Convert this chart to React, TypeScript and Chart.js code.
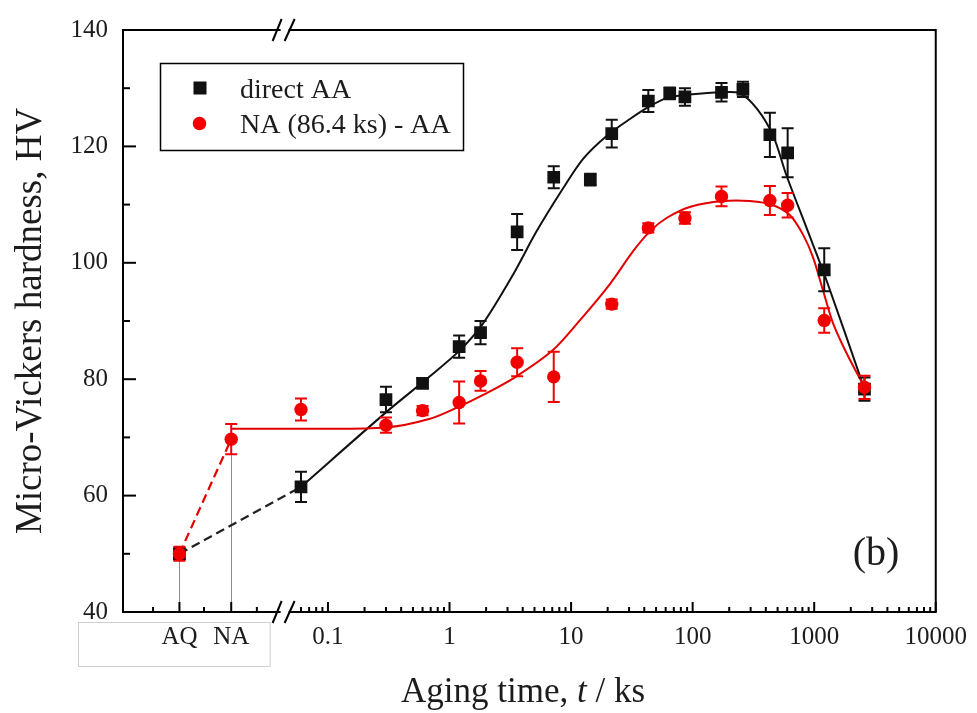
import React, { useEffect, useRef } from 'react';
import { Chart, registerables } from 'chart.js';

Chart.register(...registerables);

// ---------- axis definitions (broken time axis: AQ / NA positions, then log time in ks) ----------
const AQ_T = 0.006; // position used for the "AQ" category left of the break
const NA_T = 0.016; // position used for the "NA" category left of the break
const BREAK_T = 0.044; // where the axis break sits
const X_MIN = 0.00206;
const X_MAX = 10000;
const X_LABELED = [AQ_T, NA_T, 0.1, 1, 10, 100, 1000, 10000];
const X_LABEL_TEXT = ['AQ', 'NA', '0.1', '1', '10', '100', '1000', '10000'];
const X_LEFT_MINOR = [0.00364, 0.00955, 0.026];
const X_DECADES = [0.01, 0.1, 1, 10, 100, 1000];
const X_MINOR_MULT = [2, 3, 4, 5, 6, 7, 8, 9];

const Y_MIN = 40;
const Y_MAX = 140;
const Y_MAJOR = [40, 60, 80, 100, 120, 140];
const Y_MINOR = [50, 70, 90, 110, 130];

// ---------- measured data ----------
const AA_TIME = [AQ_T, 0.06, 0.3, 0.6, 1.2, 1.8, 3.6, 7.2, 14.4, 21.6, 43.2, 64.8, 86.4, 172.8, 259.2, 432, 604.8, 1209.6, 2592];
const AA_HV = [50.0, 61.5, 76.5, 79.3, 85.6, 88.0, 105.3, 114.7, 114.3, 122.2, 127.8, 129.1, 128.5, 129.3, 129.8, 122.0, 118.9, 98.8, 78.3];
const AA_ERR = [1.0, 2.6, 2.2, 0.8, 1.9, 2.0, 3.1, 1.9, 1.0, 2.4, 1.9, 1.0, 1.5, 1.6, 1.3, 3.8, 4.2, 3.7, 2.0];

const NAAA_TIME = [AQ_T, NA_T, 0.06, 0.3, 0.6, 1.2, 1.8, 3.6, 7.2, 21.6, 43.2, 86.4, 172.8, 432, 604.8, 1209.6, 2592];
const NAAA_HV = [50.0, 69.7, 74.8, 72.1, 74.6, 76.0, 79.7, 82.9, 80.4, 92.9, 106.0, 107.7, 111.4, 110.7, 109.9, 90.1, 78.6];
const NAAA_ERR = [1.2, 2.6, 1.9, 1.3, 0.8, 3.6, 1.7, 2.4, 4.3, 0.8, 0.8, 1.0, 1.7, 2.5, 2.1, 2.1, 2.0];

// ---------- guide curves ----------
const AA_FIT_TIME = [0.06, 0.3, 0.69, 1.22, 1.89, 3.34, 5.2, 8.6, 12.6, 19.6, 30.5, 44.5, 61, 94, 176, 245, 340, 460, 592, 865, 1262, 2592];
const AA_FIT_HV = [61.5, 74.3, 80.5, 85.0, 89.6, 98.0, 105.4, 112.8, 117.9, 121.8, 124.7, 126.9, 128.3, 128.9, 129.3, 129.1, 126.4, 121.8, 115.0, 106.0, 97.0, 78.3];

const NAAA_FIT_TIME = [NA_T, 0.06, 0.3, 0.69, 1.2, 2.02, 3.56, 7.1, 11.8, 20.8, 32.4, 44.5, 61, 94.8, 178, 295, 459, 630, 811, 980, 1184, 1430, 1844, 2592];
const NAAA_FIT_HV = [71.5, 71.5, 71.7, 73.2, 75.3, 77.6, 80.5, 85.0, 90.1, 96.3, 102.0, 105.4, 107.7, 109.6, 110.6, 110.6, 109.9, 108.2, 104.8, 100.9, 95.2, 89.6, 84.5, 78.6];

const AA_DASH_TIME = [AQ_T, 0.06];
const AA_DASH_HV = [50.0, 61.5];
const NAAA_DASH_TIME = [AQ_T, NA_T];
const NAAA_DASH_HV = [50.0, 69.7];

const LEGEND_LABELS = ['direct AA', 'NA (86.4 ks) - AA'];
const PANEL_LABEL = '(b)';
const Y_TITLE = 'Micro-Vickers hardness, HV';

const SERIF = "'Liberation Serif', 'Times New Roman', serif";
const BLACK = '#111111';
const RED = '#f00000';
const TEXT = '#1c1c1c';

const pts = (xs: number[], ys: number[]) => xs.map((x, i) => ({ x, y: ys[i] }));

const decor = {
  id: 'decor',
  beforeDatasetsDraw(chart: any) {
    const { ctx, scales } = chart;
    const xs = scales.x;
    const ys = scales.y;
    ctx.save();
    ctx.strokeStyle = '#8c8c8c';
    ctx.lineWidth = 1;
    const guides = [
      [AQ_T, NAAA_HV[0] - NAAA_ERR[0]],
      [NA_T, NAAA_HV[1] - NAAA_ERR[1]],
    ];
    for (const [t, v] of guides) {
      const px = Math.round(xs.getPixelForValue(t)) + 0.5;
      ctx.beginPath();
      ctx.moveTo(px, ys.getPixelForValue(v));
      ctx.lineTo(px, ys.getPixelForValue(Y_MIN));
      ctx.stroke();
    }
    ctx.restore();
  },
  afterDatasetDraw(chart: any, args: any) {
    const ds = chart.data.datasets[args.index];
    if (!ds.errors) return;
    const { ctx, scales } = chart;
    const ys = scales.y;
    const meta = args.meta;
    ctx.save();
    ctx.strokeStyle = ds.borderColor;
    ctx.lineWidth = 2;
    meta.data.forEach((el: any, i: number) => {
      const v = ds.data[i].y;
      const e = ds.errors[i];
      const top = ys.getPixelForValue(v + e);
      const bot = ys.getPixelForValue(v - e);
      ctx.beginPath();
      ctx.moveTo(el.x, top);
      ctx.lineTo(el.x, bot);
      ctx.moveTo(el.x - 6, top);
      ctx.lineTo(el.x + 6, top);
      ctx.moveTo(el.x - 6, bot);
      ctx.lineTo(el.x + 6, bot);
      ctx.stroke();
    });
    ctx.restore();
  },
  afterDraw(chart: any) {
    const { ctx, chartArea: ca, scales } = chart;
    const xs = scales.x;
    const ys = scales.y;
    ctx.save();
    const seg = (x1: number, y1: number, x2: number, y2: number) => {
      ctx.beginPath();
      ctx.moveTo(x1, y1);
      ctx.lineTo(x2, y2);
      ctx.stroke();
    };
    ctx.strokeStyle = '#000';
    ctx.lineWidth = 2;
    ctx.strokeRect(ca.left, ca.top, ca.right - ca.left, ca.bottom - ca.top);

    // y ticks (inward)
    for (const v of Y_MAJOR) {
      const py = ys.getPixelForValue(v);
      seg(ca.left, py, ca.left + 13, py);
    }
    for (const v of Y_MINOR) {
      const py = ys.getPixelForValue(v);
      seg(ca.left, py, ca.left + 7, py);
    }
    // x ticks (inward)
    for (const t of X_LABELED) {
      const px = xs.getPixelForValue(t);
      seg(px, ca.bottom, px, ca.bottom - 10);
    }
    const minors: number[] = [...X_LEFT_MINOR];
    for (const d of X_DECADES) {
      for (const m of X_MINOR_MULT) {
        const t = d * m;
        if (t > BREAK_T * 1.25 && t < X_MAX) minors.push(t);
      }
    }
    for (const t of minors) {
      const px = xs.getPixelForValue(t);
      seg(px, ca.bottom, px, ca.bottom - 5);
    }

    // axis breaks
    const bx = xs.getPixelForValue(BREAK_T);
    for (const yy of [ca.top, ca.bottom]) {
      ctx.fillStyle = '#fff';
      ctx.fillRect(bx - 4, yy - 3, 8, 6);
      ctx.lineWidth = 2;
      seg(bx - 12, yy + 11, bx - 3, yy - 11);
      seg(bx + 0, yy + 11, bx + 10, yy - 11);
    }

    // light box around AQ / NA labels
    ctx.strokeStyle = '#cfcfcf';
    ctx.lineWidth = 1;
    ctx.strokeRect(ca.left - 44.5, ca.bottom + 10.5, bx - 14 - (ca.left - 44), 44);

    // legend
    const lx = ca.left + 37;
    const ly = ca.top + 33;
    ctx.strokeStyle = '#000';
    ctx.lineWidth = 1.5;
    ctx.strokeRect(lx + 0.5, ly + 0.5, 303, 87);
    ctx.fillStyle = BLACK;
    ctx.fillRect(lx + 33.5, ly + 18.5, 13, 13);
    ctx.fillStyle = RED;
    ctx.beginPath();
    ctx.arc(lx + 39.5, ly + 60.5, 6.8, 0, Math.PI * 2);
    ctx.fill();
    ctx.fillStyle = TEXT;
    ctx.font = `28px ${SERIF}`;
    ctx.textBaseline = 'alphabetic';
    ctx.textAlign = 'left';
    ctx.fillText(LEGEND_LABELS[0], lx + 80, ly + 35);
    ctx.fillText(LEGEND_LABELS[1], lx + 80, ly + 70);

    // panel label
    ctx.font = `40px ${SERIF}`;
    ctx.fillText(PANEL_LABEL, ca.right - 83, ca.bottom - 47);

    // x title with italic t
    const partA = 'Aging time, ';
    const partB = 't';
    const partC = ' / ks';
    const fN = `35px ${SERIF}`;
    const fI = `italic 35px ${SERIF}`;
    ctx.font = fN;
    const wA = ctx.measureText(partA).width;
    const wC = ctx.measureText(partC).width;
    ctx.font = fI;
    const wB = ctx.measureText(partB).width;
    const total = wA + wB + wC;
    let x0 = 523 - total / 2;
    const by = 702;
    ctx.font = fN;
    ctx.fillText(partA, x0, by);
    x0 += wA;
    ctx.font = fI;
    ctx.fillText(partB, x0, by);
    x0 += wB;
    ctx.font = fN;
    ctx.fillText(partC, x0, by);
    ctx.restore();
  },
};

export default function App() {
  const ref = useRef<HTMLCanvasElement>(null);
  useEffect(() => {
    const canvas = ref.current;
    if (!canvas) return;
    const chart = new Chart(canvas, {
      type: 'line',
      data: {
        datasets: [
          {
            label: LEGEND_LABELS[1],
            data: pts(NAAA_TIME, NAAA_HV),
            errors: NAAA_ERR,
            showLine: false,
            pointStyle: 'circle',
            pointRadius: 6.7,
            pointBackgroundColor: RED,
            pointBorderColor: RED,
            pointBorderWidth: 0,
            borderColor: RED,
            order: 0,
          } as any,
          {
            label: LEGEND_LABELS[0],
            data: pts(AA_TIME, AA_HV),
            errors: AA_ERR,
            showLine: false,
            pointStyle: 'rect',
            pointRadius: 9,
            pointBackgroundColor: BLACK,
            pointBorderColor: BLACK,
            pointBorderWidth: 0,
            borderColor: BLACK,
            order: 1,
          } as any,
          {
            label: 'NA-AA fit',
            data: pts(NAAA_FIT_TIME, NAAA_FIT_HV),
            borderColor: '#e30000',
            borderWidth: 2,
            pointRadius: 0,
            tension: 0.3,
            order: 2,
          },
          {
            label: 'NA-AA dash',
            data: pts(NAAA_DASH_TIME, NAAA_DASH_HV),
            borderColor: '#e30000',
            borderWidth: 2.2,
            borderDash: [9, 5],
            pointRadius: 0,
            order: 2,
          },
          {
            label: 'AA fit',
            data: pts(AA_FIT_TIME, AA_FIT_HV),
            borderColor: BLACK,
            borderWidth: 2,
            pointRadius: 0,
            tension: 0.3,
            order: 3,
          },
          {
            label: 'AA dash',
            data: pts(AA_DASH_TIME, AA_DASH_HV),
            borderColor: '#222',
            borderWidth: 2.2,
            borderDash: [9, 5],
            pointRadius: 0,
            order: 3,
          },
        ],
      },
      options: {
        responsive: false,
        devicePixelRatio: 1,
        animation: false,
        events: [],
        layout: { padding: { left: 0, right: 41, top: 23, bottom: 0 } },
        plugins: { legend: { display: false }, tooltip: { enabled: false } },
        scales: {
          x: {
            type: 'logarithmic',
            min: X_MIN,
            max: X_MAX,
            bounds: 'data',
            grid: { display: false, drawTicks: false },
            border: { display: false },
            afterBuildTicks: (axis: any) => {
              axis.ticks = X_LABELED.map((value) => ({ value, major: true }));
            },
            afterFit: (axis: any) => {
              axis.height = 101;
            },
            ticks: {
              autoSkip: false,
              maxRotation: 0,
              minRotation: 0,
              padding: 10,
              color: TEXT,
              font: { family: SERIF, size: 25 },
              callback: (value: any) => {
                const idx = X_LABELED.findIndex((t) => Math.abs(t - Number(value)) / t < 1e-6);
                return idx >= 0 ? X_LABEL_TEXT[idx] : '';
              },
            },
          },
          y: {
            type: 'linear',
            min: Y_MIN,
            max: Y_MAX,
            grid: { display: false, drawTicks: false },
            border: { display: false },
            afterFit: (axis: any) => {
              axis.width = 123;
            },
            ticks: {
              stepSize: 20,
              padding: 15,
              color: TEXT,
              font: { family: SERIF, size: 25 },
            },
            title: {
              display: true,
              text: Y_TITLE,
              color: TEXT,
              font: { family: SERIF, size: 37 },
              padding: { top: 9, bottom: 0 },
            },
          },
        },
      } as any,
      plugins: [decor],
    });
    return () => chart.destroy();
  }, []);
  return (
    <div style={{ position: 'fixed', left: 0, top: 0, width: 977, height: 713, background: '#fff' }}>
      <canvas ref={ref} width={977} height={713} style={{ display: 'block' }} />
    </div>
  );
}
